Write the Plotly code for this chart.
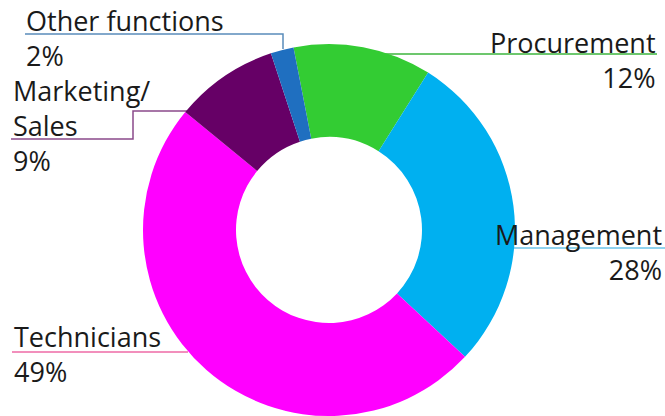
import plotly.graph_objects as go

categories = ["Procurement", "Management", "Technicians", "Marketing/Sales", "Other functions"]
values = [12, 28, 49, 9, 2]
colors = ["#33cc33", "#00b0f0", "#ff00ff", "#660066", "#1f6fc0"]
label_lines = [["Procurement"], ["Management"], ["Technicians"], ["Marketing/", "Sales"], ["Other functions"]]

W, H = 665, 416

fig = go.Figure(go.Pie(
    labels=categories, values=values, sort=False, direction="clockwise",
    rotation=-11, hole=0.5, textinfo="none", hoverinfo="label+percent",
    marker=dict(colors=colors, line=dict(width=0)),
    domain=dict(x=[142 / W, 516 / W], y=[0, 1 - 44 / H]),
    showlegend=False,
))

def px(x):
    return x / W

def py(y):
    return 1 - y / H

# label placement: (anchor x, align, first baseline, last baseline, line color, leader path)
FS = 27
layout_spec = {
    "Procurement": (657, "right", 52, 86, "#3cb43c", [(330, 54), (657, 54)]),
    "Management": (663, "right", 245, 278, "#6cc4ea", [(505, 248), (665, 248)]),
    "Technicians": (13, "left", 347, 379, "#ee6aa6", [(12, 352), (188, 352)]),
    "Marketing/Sales": (12, "left", 102, 168, "#8a4a8a", [(11, 139), (133, 139), (133, 111), (187, 111)]),
    "Other functions": (25, "left", 32, 64, "#5a8cba", [(25, 34), (283, 34), (283, 49)]),
}

annotations = []
shapes = []
total = sum(values)
for cat, val, lines in zip(categories, values, label_lines):
    x, align, b0, b1, lc, path = layout_spec[cat]
    text = "<br>".join(lines + [f"{round(100 * val / total)}%"])
    annotations.append(dict(
        x=px(x), y=py((b0 + b1) / 2 - 9.5), xref="paper", yref="paper",
        xanchor=align, yanchor="middle", align=align, showarrow=False, text=text,
        borderpad=0,
        font=dict(family="Open Sans", size=FS, color="#1a1a1a"),
    ))
    d = "M " + " L ".join(f"{px(a)},{py(b)}" for a, b in path)
    shapes.append(dict(type="path", path=d, xref="paper", yref="paper",
                       line=dict(color=lc, width=1.5), layer="below"))

fig.update_layout(
    width=W, height=H, margin=dict(l=0, r=0, t=0, b=0),
    paper_bgcolor="white", plot_bgcolor="white",
    annotations=annotations, shapes=shapes,
)

fig.write_html("out.html")
